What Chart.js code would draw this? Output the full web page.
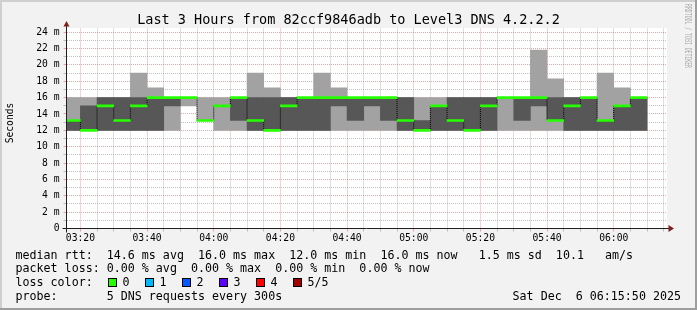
<!DOCTYPE html>
<html>
<head>
<meta charset="utf-8">
<script src="https://cdn.jsdelivr.net/npm/chart.js@4.4.1/dist/chart.umd.min.js"></script>
<style>
  html, body { margin: 0; padding: 0; background: #f2f2f2; }
  #wrap { position: relative; width: 697px; height: 310px; overflow: hidden; }
  #chart { position: absolute; left: 0; top: 0; }
  .leg { position: absolute; font-family: "DejaVu Sans Mono", monospace; font-size: 11.66px;
         line-height: 14px; white-space: pre; color: #000; }
  .box { position: absolute; width: 7px; height: 7px; border: 1px solid #000; }
</style>
</head>
<body>
<div id="wrap">
  <canvas id="chart" width="697" height="310"></canvas>
  <div id="legend"></div>
</div>
<script>
// 5 minute steps, start time of each step
const stepStarts = ['03:15','03:20','03:25','03:30','03:35','03:40','03:45','03:50','03:55',
    '04:00','04:05','04:10','04:15','04:20','04:25','04:30','04:35','04:40','04:45','04:50','04:55',
    '05:00','05:05','05:10','05:15','05:20','05:25','05:30','05:35','05:40','05:45','05:50','05:55',
    '06:00','06:05'];

// the 5 DNS replies of each step, sorted fastest .. slowest (ms)
const ping1 = [12,12,12,12,12,12,12,15,13.2, 12,12,12,12,12,12,12,12,12,12,12,12,
    12,12,12,12,12,12,12,12,12,12,12,12, 12,12];
const ping2 = [12,12,12,12,12,12,15,16,13.2, 15,13.2,12,12,12,12,12,15,13.2,15,13.2,12,
    12,12,12,12,12,16,13.2,15,13.2,12,12,12, 12,12];
const median = [13.2,12,15,13.2,15,16,16,16,13.2, 15,16,13.2,12,15,16,16,16,16,16,16,13.2,
    12,15,13.2,12,15,16,16,16,13.2,15,16,13.2, 15,16];
const ping4 = [13.2,15,16,16,16,16,16,16,13.2, 15,16,16,16,16,16,16,16,16,16,16,16,
    13.2,15,16,16,16,16,16,16,16,16,16,13.2, 15,16];
const ping5 = [16,16,16,16,19,17.2,16,16,16, 16,16,19,17.2,16,16,19,17.2,16,16,16,16,
    16,16,16,16,16,16,16,21.8,18.3,16,16,19, 17.2,16];

const xTickLabels = ['03:20','03:40','04:00','04:20','04:40','05:00','05:20','05:40','06:00'];
const yTickLabels = ['0','2 m','4 m','6 m','8 m','10 m','12 m','14 m','16 m','18 m','20 m','22 m','24 m'];

const lossLabels = ['0','1','2','3','4','5/5'];
const lossColors = ['#26ff00','#00b8ff','#0059ff','#5e00ff','#ff0000','#a10000'];

const titleText = 'Last 3 Hours from 82ccf9846adb to Level3 DNS 4.2.2.2';
const legendLines = [
    'median rtt:  14.6 ms avg  16.0 ms max  12.0 ms min  16.0 ms now   1.5 ms sd  10.1   am/s',
    'packet loss: 0.00 % avg  0.00 % max  0.00 % min  0.00 % now',
    'loss color:',
    'probe:       5 DNS requests every 300s'
];
const stampText = 'Sat Dec  6 06:15:50 2025';

const toMin = s => {
    const p = s.split(':').map(Number);
    return p[0] * 60 + p[1] + (p[2] || 0) / 60;
};

const STEP = 5;
const X_MIN = toMin('03:15:50');
const X_MAX = toMin('06:15:50');
const Y_MAX = 24.45;
const MED_HALF = 0.122;   // median drawn as a 2px strip

const GRID = 'rgba(143,143,143,0.55)';
const MGRID = 'rgba(222,79,79,0.5)';
const MONO = '"DejaVu Sans Mono", monospace';

// grid positions
const xGrid = [];
for (let v = toMin('03:20'); v < X_MAX; v += STEP) xGrid.push(v);
const xLabelOf = new Map(xTickLabels.map(l => [toMin(l), l]));
const yGrid = [];
for (let v = 0; v <= 24; v++) yGrid.push(v);
const yLabelOf = new Map(yTickLabels.map(l => [parseFloat(l), l]));

const band = (lo, hi) => stepStarts.map((s, i) => ({ x: toMin(s) + STEP / 2, y: [lo[i], hi[i]] }));

const gridColor = labels => c => (c.tick && labels.has(c.tick.value)) ? MGRID : GRID;

const barBase = {
    type: 'bar',
    grouped: false,
    barPercentage: 1,
    categoryPercentage: 1,
    borderWidth: 0
};

// frame, axes, title, unit and watermark the rrdtool way
const rrdFrame = {
    id: 'rrdFrame',
    beforeDraw(chart) {
        const { ctx, width, height, chartArea: a } = chart;
        ctx.save();
        ctx.fillStyle = '#f2f2f2';
        ctx.fillRect(0, 0, width, height);
        ctx.fillStyle = '#cfcfcf';
        ctx.fillRect(0, 0, width, 2);
        ctx.fillRect(0, 0, 2, height);
        ctx.fillStyle = '#9e9e9e';
        ctx.fillRect(0, height - 2, width, 2);
        ctx.fillRect(width - 2, 0, 2, height);
        ctx.fillStyle = '#ffffff';
        ctx.fillRect(Math.ceil(a.left), Math.floor(a.top), Math.ceil(a.right) - Math.ceil(a.left),
            Math.ceil(a.bottom) - Math.floor(a.top));
        ctx.restore();
    },
    afterDraw(chart) {
        const { ctx, width, chartArea: a } = chart;
        ctx.save();
        // axes
        ctx.strokeStyle = '#1f1f1f';
        ctx.lineWidth = 1;
        ctx.beginPath();
        ctx.moveTo(a.left - 4, a.bottom);
        ctx.lineTo(a.right + 4, a.bottom);
        ctx.moveTo(a.left, a.bottom + 4);
        ctx.lineTo(a.left, a.top - 4);
        ctx.stroke();
        // arrows
        ctx.fillStyle = '#801f1f';
        ctx.beginPath();
        ctx.moveTo(a.right + 2, a.bottom - 3.5);
        ctx.lineTo(a.right + 2, a.bottom + 3.5);
        ctx.lineTo(a.right + 7.5, a.bottom);
        ctx.closePath();
        ctx.fill();
        ctx.beginPath();
        ctx.moveTo(a.left - 3, a.top - 2);
        ctx.lineTo(a.left + 3, a.top - 2);
        ctx.lineTo(a.left, a.top - 7.5);
        ctx.closePath();
        ctx.fill();

        // title
        ctx.fillStyle = '#000';
        ctx.font = '13.5px ' + MONO;
        ctx.textAlign = 'center';
        ctx.textBaseline = 'alphabetic';
        ctx.fillText(titleText, width / 2, 23.5);

        // vertical unit label
        ctx.save();
        ctx.translate(10.5, 123);
        ctx.rotate(-Math.PI / 2);
        ctx.font = '9.6px ' + MONO;
        ctx.textBaseline = 'middle';
        ctx.fillText('Seconds', 0, 0);
        ctx.restore();

        // watermark
        ctx.save();
        ctx.translate(687.5, 36);
        ctx.rotate(Math.PI / 2);
        ctx.font = '8px ' + MONO;
        ctx.fillStyle = '#ababab';
        ctx.textBaseline = 'middle';
        ctx.fillText('RRDTOOL / TOBI OETIKER', 0, 0, 64);
        ctx.restore();
        ctx.restore();
    }
};

new Chart(document.getElementById('chart'), {
    type: 'bar',
    data: {
        datasets: [
            { ...barBase, label: 'smoke outer', data: band(ping1, ping5), backgroundColor: '#a2a2a2', order: 4 },
            { ...barBase, label: 'smoke inner', data: band(ping2, ping4), backgroundColor: '#575757', order: 3 },
            {
                type: 'line',
                label: 'median step',
                data: stepStarts.map((s, i) => ({ x: toMin(s), y: median[i] })),
                stepped: true,
                borderColor: '#000',
                borderWidth: 1,
                borderDash: [1, 1],
                pointRadius: 0,
                fill: false,
                order: 2
            },
            {
                ...barBase,
                label: 'median rtt',
                data: stepStarts.map((s, i) => ({ x: toMin(s) + STEP / 2, y: [median[i] - MED_HALF, median[i] + MED_HALF] })),
                backgroundColor: lossColors[0],
                order: 1
            }
        ]
    },
    options: {
        responsive: false,
        animation: false,
        events: [],
        layout: { padding: { top: 28.5, right: 30.5, bottom: 0, left: 0 } },
        plugins: {
            legend: { display: false },
            tooltip: { enabled: false },
            title: { display: false }
        },
        scales: {
            x: {
                type: 'linear',
                min: X_MIN,
                max: X_MAX,
                offset: false,
                z: 1,
                afterFit: s => { s.height = 81.5; },
                afterBuildTicks: s => { s.ticks = xGrid.map(v => ({ value: v })); },
                grid: {
                    offset: false,
                    color: gridColor(xLabelOf),
                    tickLength: 3
                },
                border: { display: false, dash: [1, 1] },
                ticks: {
                    autoSkip: false,
                    maxRotation: 0,
                    padding: 1,
                    color: '#000',
                    font: { family: MONO, size: 9.7 },
                    callback: v => xLabelOf.get(v) || ''
                }
            },
            y: {
                min: 0,
                max: Y_MAX,
                z: 1,
                afterFit: s => { s.width = 66.5; },
                afterBuildTicks: s => { s.ticks = yGrid.map(v => ({ value: v })); },
                grid: {
                    color: gridColor(yLabelOf),
                    tickLength: 3
                },
                border: { display: false, dash: [1, 1] },
                ticks: {
                    autoSkip: false,
                    padding: 4,
                    color: '#000',
                    font: { family: MONO, size: 9.7 },
                    callback: v => yLabelOf.has(v) ? yLabelOf.get(v) : ''
                }
            }
        }
    },
    plugins: [rrdFrame]
});

// rrdtool style legend below the graph
const legend = document.getElementById('legend');
const lineTops = [247.5, 261, 275, 288.5];
legendLines.forEach((t, i) => {
    const d = document.createElement('div');
    d.className = 'leg';
    d.style.left = '15.5px';
    d.style.top = lineTops[i] + 'px';
    d.textContent = t;
    legend.appendChild(d);
});
lossLabels.forEach((l, i) => {
    const b = document.createElement('div');
    b.className = 'box';
    b.style.left = (108 + 37 * i) + 'px';
    b.style.top = '278px';
    b.style.background = lossColors[i];
    legend.appendChild(b);
    const d = document.createElement('div');
    d.className = 'leg';
    d.style.left = (108 + 37 * i + 14.5) + 'px';
    d.style.top = lineTops[2] + 'px';
    d.textContent = l;
    legend.appendChild(d);
});
const stamp = document.createElement('div');
stamp.className = 'leg';
stamp.style.right = '16px';
stamp.style.top = lineTops[3] + 'px';
stamp.textContent = stampText;
legend.appendChild(stamp);
</script>
</body>
</html>
